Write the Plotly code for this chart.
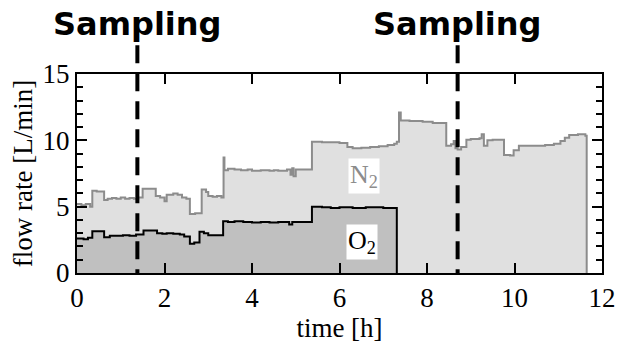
import plotly.graph_objects as go

# N2 flow rate (step data): time [h], value [L/min]
n2_t = [0.00, 0.10, 0.20, 0.30, 0.35, 0.45, 0.62, 0.70, 0.80, 0.90, 1.00, 1.10, 1.20, 1.30, 1.40,
        1.50, 1.80, 1.90, 2.00, 2.05, 2.20, 2.30, 2.40, 2.50, 2.58, 2.70, 2.85, 2.95, 3.00, 3.10,
        3.20, 3.30, 3.35, 3.37, 3.45, 3.60, 3.75, 3.90, 4.00, 4.20, 4.40, 4.50, 4.60, 4.80, 4.88,
        4.92, 4.95, 5.00, 5.30, 5.37, 5.60, 5.80, 6.00, 6.18, 6.30, 6.50, 6.70, 6.90, 7.10, 7.25,
        7.31, 7.36, 7.40, 7.60, 7.90, 8.13, 8.44, 8.55, 8.61, 8.65, 8.70, 8.78, 8.90, 9.00, 9.10,
        9.20, 9.25, 9.30, 9.38, 9.50, 9.76, 9.90, 9.98, 10.10, 10.40, 10.70, 10.90, 11.05, 11.15,
        11.25, 11.45, 11.62, 11.65]
n2_v = [5.2, 5.1, 5.2, 5.0, 6.2, 6.15, 5.5, 5.6, 5.65, 5.6, 5.7, 5.6, 5.65, 5.6, 5.7,
        6.35, 5.8, 5.7, 5.4, 5.9, 6.0, 5.9, 5.7, 5.6, 4.45, 4.5, 6.3, 6.1, 5.8, 5.75,
        5.8, 5.7, 8.7, 7.75, 7.85, 7.8, 7.75, 7.8, 7.7, 7.75, 7.7, 7.75, 7.7, 7.8, 7.4,
        7.9, 7.3, 7.8, 7.8, 9.9, 9.85, 9.85, 9.8, 9.5, 9.4, 9.45, 9.5, 9.55, 9.65, 9.75,
        9.9, 12.1, 11.5, 11.45, 11.4, 11.3, 9.6, 9.7, 9.95, 9.4, 9.3, 9.5, 10.05, 10.1, 10.1,
        10.15, 10.45, 9.6, 10.0, 10.05, 8.9, 8.85, 9.25, 9.6, 9.6, 9.65, 9.75, 9.95, 10.2,
        10.4, 10.45, 10.35, 0.0]

# O2 flow rate (step data)
o2_t = [0.00, 0.15, 0.25, 0.35, 0.62, 0.75, 0.90, 1.05, 1.20, 1.35, 1.52, 1.83, 1.95, 2.05,
        2.20, 2.35, 2.45, 2.58, 2.68, 2.80, 2.90, 3.00, 3.20, 3.34, 3.45, 3.60, 3.80, 4.00,
        4.20, 4.40, 4.60, 4.85, 4.92, 5.00, 5.37, 5.60, 5.80, 6.00, 6.30, 6.60, 7.00, 7.31]
o2_v = [2.6, 2.55, 2.65, 3.15, 2.7, 2.8, 2.8, 2.85, 2.8, 2.9, 3.2, 3.0, 2.95, 3.0,
        2.95, 2.9, 2.75, 2.2, 2.3, 3.1, 3.0, 2.85, 2.85, 3.9, 3.85, 3.9, 3.85, 3.8,
        3.85, 3.8, 3.85, 3.65, 3.85, 3.85, 5.0, 4.95, 4.9, 4.95, 4.9, 4.95, 4.9, 0.0]

sampling_times = [1.38, 8.7]
sampling_label = "Sampling"
x_label = "time [h]"
y_label = "flow rate [L/min]"

serif = "Liberation Serif"

fig = go.Figure()
fig.add_trace(go.Scatter(x=n2_t, y=n2_v, mode="lines", line=dict(color="#8c8c8c", width=2, shape="hv"),
                         fill="tozeroy", fillcolor="#e0e0e0", showlegend=False))
fig.add_trace(go.Scatter(x=o2_t, y=o2_v, mode="lines", line=dict(color="black", width=2, shape="hv"),
                         fill="tozeroy", fillcolor="#c0c0c0", showlegend=False))

for t in sampling_times:
    fig.add_shape(type="line", xref="x", yref="paper", x0=t, x1=t, y0=1.145, y1=0,
                  line=dict(color="black", width=4, dash="18px,10px"), layer="above")
    fig.add_annotation(x=t, xref="x", y=1.25, yref="paper", text=sampling_label, showarrow=False,
                       font=dict(family="DejaVu Sans", size=32, color="black", weight="bold"),
                       xanchor="center", yanchor="middle")

fig.add_annotation(x=6.55, y=7.3, xref="x", yref="y", text="N<sub>2</sub>", showarrow=False,
                   font=dict(family=serif, size=26, color="#8c8c8c"), bgcolor="white", borderpad=1)
fig.add_annotation(x=6.52, y=2.35, xref="x", yref="y", text="O<sub>2</sub>", showarrow=False,
                   font=dict(family=serif, size=26, color="black"), bgcolor="white", borderpad=1)

axis_common = dict(showline=True, linecolor="black", linewidth=2, mirror="ticks", ticks="inside",
                   tickcolor="black", tickwidth=2, showgrid=False, zeroline=False,
                   tickfont=dict(family=serif, size=27, color="black"))
fig.update_xaxes(range=[0, 12], dtick=2, tick0=0, ticklen=10,
                 title=dict(text=x_label, font=dict(family=serif, size=27, color="black"), standoff=0),
                 **axis_common)
fig.update_yaxes(range=[0, 15], dtick=5, tick0=0, ticklen=10,
                 minor=dict(dtick=1, ticks="inside", ticklen=6, tickcolor="black", tickwidth=2),
                 title=dict(text=y_label, font=dict(family=serif, size=27, color="black"), standoff=2),
                 **axis_common)

fig.update_layout(width=628, height=344, margin=dict(l=77, r=19, t=74, b=70),
                  font=dict(family=serif, color="black"),
                  plot_bgcolor="white", paper_bgcolor="white")

fig.write_html("out.html")
